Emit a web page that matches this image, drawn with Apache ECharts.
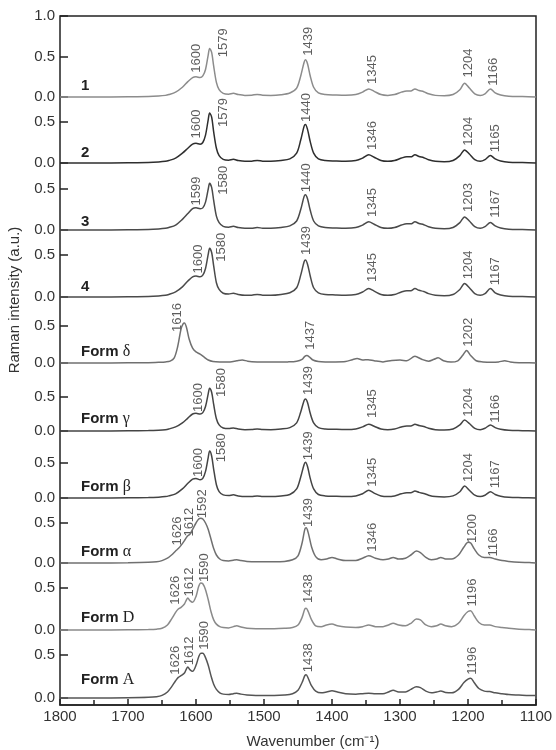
<!DOCTYPE html>
<html>
<head>
<meta charset="utf-8">
<script src="https://cdn.jsdelivr.net/npm/echarts@6/dist/echarts.min.js"></script>
<style>html,body{margin:0;padding:0;background:#fff}#c{width:556px;height:750px}</style>
</head>
<body>
<div id="c"></div>
<script>
// ---------- DATA ----------
const xTicks = [1800, 1700, 1600, 1500, 1400, 1300, 1200, 1100];
const panelNames = ['1', '2', '3', '4', 'Form δ', 'Form γ', 'Form β', 'Form α', 'Form D', 'Form A'];

// wavenumbers for spectra 1,2,3,4, γ, β
const wnA = [
  1800,1750,1700,1670,1655,1645,1640,1630,1620,1612,1605,1600,
  1594,1590,1586,1582,1580,1577,1574,1570,1566,1560,1552,1545,
  1538,1528,1518,1510,1502,1490,1475,1462,1452,1446,1441,1439,
  1436,1432,1427,1420,1410,1395,1380,1365,1355,1346,1338,1328,
  1318,1308,1298,1290,1284,1278,1272,1265,1258,1248,1235,1222,
  1212,1205,1198,1190,1182,1175,1167,1160,1152,1140,1120,1100];
const spec1 = [
  0,0,0.003,0.006,0.012,0.02,0.03,0.06,0.12,0.19,0.24,0.25,
  0.24,0.26,0.34,0.52,0.6,0.55,0.38,0.18,0.09,0.045,0.035,0.045,
  0.03,0.02,0.022,0.032,0.022,0.02,0.028,0.05,0.11,0.26,0.43,0.46,
  0.41,0.26,0.12,0.05,0.03,0.025,0.022,0.03,0.06,0.1,0.07,0.03,
  0.02,0.03,0.06,0.075,0.075,0.1,0.08,0.065,0.04,0.02,0.015,0.03,
  0.09,0.17,0.11,0.04,0.02,0.04,0.1,0.05,0.025,0.01,0.005,0];
const spec2 = [
  0,0,0.003,0.006,0.012,0.02,0.03,0.06,0.12,0.18,0.23,0.24,
  0.23,0.25,0.34,0.53,0.61,0.56,0.38,0.18,0.09,0.045,0.035,0.045,
  0.03,0.02,0.022,0.032,0.022,0.02,0.03,0.05,0.12,0.28,0.45,0.47,
  0.41,0.26,0.12,0.05,0.03,0.025,0.022,0.03,0.06,0.1,0.07,0.03,
  0.02,0.03,0.06,0.075,0.075,0.1,0.08,0.065,0.04,0.02,0.015,0.03,
  0.09,0.16,0.11,0.04,0.02,0.04,0.09,0.05,0.025,0.01,0.005,0];
const spec3 = [
  0,0,0.003,0.006,0.012,0.02,0.03,0.06,0.13,0.2,0.26,0.27,
  0.26,0.27,0.34,0.5,0.57,0.52,0.36,0.17,0.09,0.045,0.035,0.045,
  0.03,0.02,0.022,0.03,0.022,0.02,0.03,0.05,0.11,0.25,0.41,0.43,
  0.38,0.24,0.11,0.05,0.03,0.025,0.022,0.03,0.06,0.1,0.07,0.03,
  0.02,0.03,0.06,0.075,0.075,0.1,0.08,0.065,0.04,0.02,0.015,0.03,
  0.09,0.16,0.11,0.04,0.02,0.04,0.09,0.05,0.025,0.01,0.005,0];
const spec4 = [
  0,0,0.003,0.006,0.012,0.02,0.03,0.06,0.12,0.19,0.24,0.25,
  0.24,0.26,0.34,0.51,0.58,0.53,0.37,0.17,0.09,0.045,0.035,0.045,
  0.03,0.02,0.022,0.03,0.022,0.02,0.03,0.05,0.11,0.26,0.42,0.44,
  0.39,0.25,0.11,0.05,0.03,0.025,0.022,0.03,0.06,0.1,0.07,0.03,
  0.02,0.03,0.06,0.075,0.075,0.1,0.08,0.065,0.04,0.02,0.015,0.03,
  0.09,0.16,0.11,0.04,0.02,0.04,0.1,0.05,0.025,0.01,0.005,0];
const specGamma = [
  0,0,0.003,0.006,0.012,0.02,0.03,0.06,0.12,0.19,0.25,0.26,
  0.25,0.27,0.36,0.55,0.63,0.57,0.39,0.18,0.09,0.045,0.035,0.045,
  0.03,0.02,0.022,0.03,0.022,0.02,0.03,0.05,0.12,0.28,0.45,0.47,
  0.42,0.26,0.12,0.05,0.03,0.025,0.022,0.03,0.06,0.1,0.07,0.03,
  0.02,0.03,0.06,0.075,0.075,0.1,0.08,0.065,0.04,0.02,0.015,0.03,
  0.09,0.16,0.11,0.04,0.02,0.04,0.09,0.05,0.025,0.01,0.005,0];
const specBeta = [
  0,0,0.003,0.006,0.012,0.02,0.03,0.06,0.13,0.21,0.27,0.28,
  0.26,0.28,0.38,0.58,0.67,0.6,0.41,0.19,0.09,0.045,0.035,0.045,
  0.03,0.02,0.022,0.03,0.022,0.02,0.03,0.05,0.13,0.3,0.48,0.51,
  0.45,0.28,0.13,0.05,0.03,0.025,0.022,0.03,0.06,0.11,0.07,0.03,
  0.02,0.03,0.06,0.075,0.075,0.1,0.08,0.065,0.04,0.02,0.015,0.03,
  0.09,0.17,0.11,0.04,0.02,0.04,0.09,0.05,0.025,0.01,0.005,0];

// wavenumbers for Form δ
const wnB = [
  1800,1750,1700,1670,1655,1645,1638,1632,1627,1622,1619,1617,
  1614,1610,1605,1600,1594,1588,1582,1575,1565,1550,1540,1532,
  1524,1510,1495,1480,1465,1452,1444,1440,1437,1433,1428,1420,
  1410,1395,1380,1370,1363,1355,1347,1338,1325,1312,1300,1290,
  1278,1268,1258,1250,1244,1236,1225,1215,1208,1202,1196,1188,
  1178,1165,1155,1146,1138,1125,1110,1100];
const specDelta = [
  0,0,0.002,0.005,0.01,0.015,0.025,0.07,0.22,0.46,0.53,0.54,
  0.48,0.32,0.2,0.15,0.12,0.08,0.04,0.02,0.015,0.015,0.03,0.04,
  0.025,0.015,0.012,0.012,0.015,0.025,0.05,0.09,0.1,0.08,0.04,0.02,
  0.015,0.015,0.02,0.045,0.06,0.04,0.045,0.03,0.015,0.035,0.04,0.03,
  0.09,0.05,0.025,0.05,0.07,0.03,0.012,0.03,0.1,0.17,0.1,0.03,
  0.015,0.01,0.015,0.03,0.015,0.005,0.003,0];

// wavenumbers for Forms α, D, A
const wnC = [
  1800,1750,1700,1670,1658,1650,1642,1636,1630,1626,1622,1617,
  1614,1612,1609,1605,1600,1596,1593,1590,1586,1582,1578,1574,
  1570,1565,1560,1552,1545,1540,1534,1525,1512,1500,1485,1470,
  1458,1450,1444,1440,1438,1435,1430,1424,1416,1408,1400,1392,
  1380,1365,1355,1346,1336,1325,1317,1310,1302,1292,1284,1276,
  1270,1262,1254,1246,1240,1233,1224,1214,1206,1200,1196,1191,
  1184,1176,1168,1160,1150,1140,1125,1110,1100];
const specAlpha = [
  0,0,0.003,0.008,0.015,0.03,0.06,0.1,0.15,0.18,0.22,0.28,
  0.32,0.34,0.36,0.42,0.5,0.55,0.56,0.55,0.5,0.42,0.3,0.18,
  0.1,0.05,0.03,0.025,0.035,0.04,0.03,0.02,0.015,0.015,0.015,0.02,
  0.04,0.09,0.25,0.42,0.44,0.38,0.2,0.08,0.04,0.05,0.07,0.05,
  0.03,0.03,0.06,0.09,0.06,0.04,0.05,0.07,0.05,0.06,0.1,0.15,
  0.13,0.07,0.04,0.05,0.07,0.05,0.05,0.1,0.2,0.26,0.25,0.18,
  0.1,0.07,0.07,0.05,0.03,0.02,0.01,0.005,0];
const specD = [
  0,0,0.003,0.006,0.01,0.02,0.06,0.13,0.21,0.25,0.27,0.31,
  0.36,0.38,0.35,0.33,0.4,0.52,0.56,0.55,0.48,0.36,0.22,0.12,
  0.07,0.04,0.03,0.025,0.04,0.05,0.035,0.02,0.015,0.015,0.015,0.02,
  0.03,0.06,0.15,0.25,0.26,0.22,0.12,0.05,0.04,0.06,0.07,0.05,
  0.035,0.03,0.04,0.06,0.04,0.04,0.06,0.08,0.06,0.05,0.08,0.13,
  0.12,0.06,0.04,0.05,0.07,0.05,0.04,0.08,0.17,0.22,0.23,0.17,
  0.09,0.06,0.06,0.04,0.03,0.02,0.01,0.005,0];
const specA = [
  0,0,0.003,0.008,0.015,0.03,0.07,0.13,0.2,0.24,0.26,0.29,
  0.34,0.36,0.33,0.31,0.38,0.48,0.52,0.52,0.47,0.38,0.26,0.16,
  0.1,0.06,0.045,0.04,0.05,0.055,0.045,0.035,0.03,0.03,0.03,0.035,
  0.05,0.09,0.18,0.26,0.27,0.23,0.14,0.08,0.06,0.07,0.085,0.07,
  0.05,0.045,0.05,0.055,0.05,0.05,0.07,0.09,0.07,0.07,0.1,0.13,
  0.12,0.08,0.06,0.07,0.08,0.065,0.06,0.1,0.18,0.22,0.23,0.18,
  0.11,0.08,0.075,0.06,0.05,0.04,0.035,0.03,0.03];

// peak annotations: [text, label anchor wavenumber, label anchor intensity]
const peaks1 = [['1600',1600,0.3],['1579',1560,0.49],['1439',1435,0.51],['1345',1340,0.16],['1204',1200,0.24],['1166',1163,0.14]];
const peaks2 = [['1600',1600,0.3],['1579',1560,0.44],['1440',1438,0.5],['1346',1340,0.16],['1204',1200,0.21],['1165',1160,0.13]];
const peaks3 = [['1599',1600,0.3],['1580',1560,0.43],['1440',1438,0.46],['1345',1340,0.16],['1203',1200,0.22],['1167',1160,0.15]];
const peaks4 = [['1600',1597,0.28],['1580',1562,0.42],['1439',1437,0.5],['1345',1340,0.18],['1204',1200,0.21],['1167',1160,0.14]];
const peaksDelta = [['1616',1628,0.42],['1437',1432,0.18],['1202',1200,0.22]];
const peaksGamma = [['1600',1597,0.28],['1580',1562,0.5],['1439',1434,0.53],['1345',1340,0.19],['1204',1200,0.21],['1166',1160,0.12]];
const peaksBeta = [['1600',1597,0.3],['1580',1562,0.51],['1439',1435,0.54],['1345',1340,0.16],['1204',1200,0.23],['1167',1160,0.14]];
const peaksAlpha = [['1626',1628,0.22],['1612',1609,0.33],['1592',1590,0.56],['1439',1435,0.45],['1346',1341,0.14],['1200',1194,0.25],['1166',1162,0.08]];
const peaksD = [['1626',1630,0.3],['1612',1609,0.4],['1590',1588,0.57],['1438',1435,0.32],['1196',1194,0.28]];
const peaksA = [['1626',1630,0.27],['1612',1609,0.38],['1590',1588,0.56],['1438',1435,0.3],['1196',1194,0.27]];

// ---------- ASSEMBLY ----------
const spectra = [
  [wnA, spec1], [wnA, spec2], [wnA, spec3], [wnA, spec4], [wnB, specDelta],
  [wnA, specGamma], [wnA, specBeta], [wnC, specAlpha], [wnC, specD], [wnC, specA]];
const peakSets = [peaks1, peaks2, peaks3, peaks4, peaksDelta, peaksGamma, peaksBeta, peaksAlpha, peaksD, peaksA];

// layout (pixels)
const panelBase = [97, 163, 230, 297, 363, 431, 498, 563, 630, 698];
const panelTop  = [16, 122, 189, 255, 326, 397, 463, 523, 588, 655];
const panelMax  = [1.0, 0.5, 0.5, 0.5, 0.5, 0.5, 0.5, 0.5, 0.5, 0.5];
const nameOffset = [11, 10, 8, 10, 11, 12, 11, 11, 12, 18];
const lineColors = ['#8c8c8c', '#2e2e2e', '#4a4a4a', '#4a4a4a', '#707070', '#444', '#444', '#707070', '#8a8a8a', '#555'];

const FONT = '"Liberation Sans", Arial, Helvetica, sans-serif';
const axisColor = '#222';

const grids = [{left: 60, right: 20, top: 16, bottom: 45, show: true, borderColor: axisColor, borderWidth: 1.5, backgroundColor: 'transparent'}];
const xAxes = [{
  type: 'value', gridIndex: 0, min: 1100, max: 1800, interval: 100, inverse: true,
  axisLine: {show: true, lineStyle: {color: axisColor, width: 1.5}},
  axisTick: {show: true, inside: true, length: 6, lineStyle: {color: axisColor, width: 1.5}},
  minorTick: {show: true, splitNumber: 2, length: 5, lineStyle: {color: axisColor, width: 1.5}},
  splitLine: {show: false},
  axisLabel: {show: true, margin: 4, fontSize: 15, color: '#333', fontFamily: FONT, showMinLabel: true, showMaxLabel: true,
    formatter: v => xTicks.includes(v) ? String(v) : ''}
}];
const yAxes = [{type: 'value', gridIndex: 0, min: 0, max: 1, show: false}];
const series = [];

for (let i = 0; i < 10; i++) {
  const g = i + 1;
  grids.push({left: 60, right: 20, top: panelTop[i], height: panelBase[i] - panelTop[i]});
  xAxes.push({type: 'value', gridIndex: g, min: 1100, max: 1800, inverse: true, show: false});
  yAxes.push({
    type: 'value', gridIndex: g, min: 0, max: panelMax[i], interval: 0.5,
    axisLine: {show: false},
    axisTick: {show: true, inside: true, length: 8, lineStyle: {color: axisColor, width: 1.5}},
    splitLine: {show: false},
    axisLabel: {show: true, margin: 5, fontSize: 15, color: '#333', fontFamily: FONT, showMinLabel: true, showMaxLabel: true,
      formatter: v => v.toFixed(1)}
  });
  const [wn, vals] = spectra[i];
  series.push({
    type: 'line', xAxisIndex: g, yAxisIndex: g, data: wn.map((w, k) => [w, vals[k]]),
    showSymbol: false, symbol: 'none', smooth: 0.3, clip: false, silent: true,
    lineStyle: {color: lineColors[i], width: 1.5}
  });
  series.push({
    type: 'scatter', xAxisIndex: g, yAxisIndex: g, clip: false, silent: true, symbolSize: 1,
    itemStyle: {color: 'rgba(0,0,0,0)'},
    data: peakSets[i].map(p => ({name: p[0], value: [p[1], p[2]]})),
    label: {show: true, formatter: '{b}', position: 'inside', rotate: 90, align: 'left', verticalAlign: 'middle',
      fontSize: 13, color: '#333', fontFamily: FONT}
  });
}

const graphics = [
  {type: 'text', x: 15, y: 300, rotation: Math.PI / 2,
    style: {text: 'Raman intensity (a.u.)', align: 'center', verticalAlign: 'middle', fontSize: 15, fill: '#333', fontFamily: FONT}},
  {type: 'text', x: 313, y: 742,
    style: {text: 'Wavenumber (cm⁻¹)', align: 'center', verticalAlign: 'middle', fontSize: 15, fill: '#333', fontFamily: FONT}}
];
panelNames.forEach((n, i) => {
  const parts = n.split(' ');
  const text = parts.length > 1 ? '{b|' + parts[0] + ' }{g|' + parts[1] + '}' : '{b|' + n + '}';
  graphics.push({
    type: 'text', x: 81, y: panelBase[i] - nameOffset[i],
    style: {text: text, verticalAlign: 'middle', align: 'left',
      rich: {
        b: {fontSize: 15, fontWeight: 'bold', fill: '#222', fontFamily: FONT},
        g: {fontSize: 16, fontWeight: 'normal', fill: '#222', fontFamily: '"Liberation Serif", "DejaVu Serif", serif'}
      }}
  });
});

const chart = echarts.init(document.getElementById('c'), null, {renderer: 'canvas'});
chart.setOption({
  animation: false,
  backgroundColor: '#fff',
  grid: grids, xAxis: xAxes, yAxis: yAxes, series: series, graphic: graphics
});
</script>
</body>
</html>
